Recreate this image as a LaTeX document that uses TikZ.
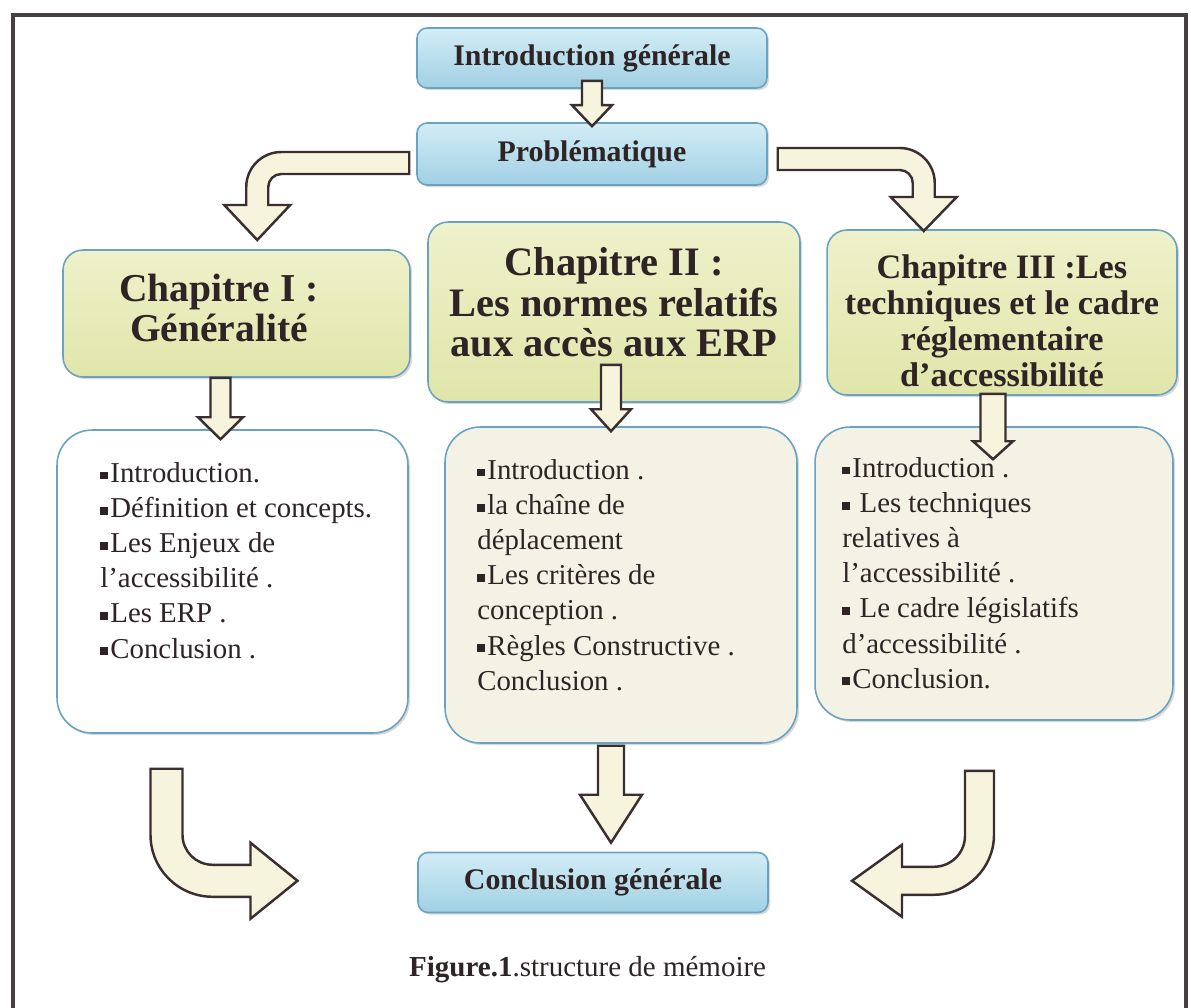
\documentclass[tikz,border=0pt]{standalone}
\usepackage{fontspec}
\setmainfont{Liberation Serif}
\usetikzlibrary{calc,shadows}

\definecolor{inkdark}{HTML}{2E2426}
\definecolor{framegray}{HTML}{474043}
\definecolor{bluetop}{HTML}{D3EDF6}
\definecolor{bluebot}{HTML}{A0D0E3}
\definecolor{blueline}{HTML}{6AA2C4}
\definecolor{chaptop}{HTML}{EEF1CA}
\definecolor{chapfill}{HTML}{E0E6AA}
\definecolor{creamfill}{HTML}{F3F2E4}
\definecolor{arrowfill}{HTML}{F6F4DC}
\definecolor{arrowline}{HTML}{3A2E30}

\newcommand{\sqb}{\raisebox{0.22ex}{\rule{0.27em}{0.27em}}\kern0.08em}
\newcommand{\downblock}[5]{%
	\draw[blockarrow] let \p1=(#1), \p2=(#2) in
		(\x1-#3,\y1) -- (\x1-#3,\y2+#5) -- (\x1-#4,\y2+#5) -- (\x1,\y2) -- (\x1+#4,\y2+#5) -- (\x1+#3,\y2+#5) -- (\x1+#3,\y1) -- cycle;}

\begin{document}
\begin{tikzpicture}
		[	x=0.02cm,y=-0.02cm,
		titlebox/.style={rectangle,rounded corners=0.2cm,draw=blueline,line width=0.9pt,top color=bluetop,bottom color=bluebot,minimum width=7cm,minimum height=1.2cm,text=inkdark,font=\fontsize{17}{19}\selectfont\bfseries,drop shadow={shadow xshift=1.2pt,shadow yshift=-1.2pt,opacity=0.3}},
		chapbox/.style={rectangle,rounded corners=0.4cm,draw=blueline,line width=0.9pt,top color=chaptop,bottom color=chapfill,align=center,text=inkdark,drop shadow={shadow xshift=1.2pt,shadow yshift=-1.2pt,opacity=0.3}},
		listbox/.style={rectangle,rounded corners=0.7cm,draw=blueline,line width=0.9pt,fill=creamfill,drop shadow={shadow xshift=1.2pt,shadow yshift=-1.2pt,opacity=0.3}},
		listtxt/.style={anchor=north west,inner sep=0pt,align=left,text=inkdark,font=\fontsize{16.4}{20}\selectfont},
		blockarrow/.style={draw=arrowline,fill=arrowfill,line width=1.4pt,line join=miter},
		outerframe/.style={draw=framegray,line width=0.08cm}
		]
		\useasboundingbox (0,0) rectangle (1191,1008);
		\draw[outerframe] (13,1008) -- (13,15) -- (1186,15) -- (1186,1008);

		\node[titlebox] (intro) at (592,58) {Introduction générale};
		\node[titlebox,minimum height=1.24cm] (prob) at (592,154) {Problématique};

		\node[chapbox,font=\fontsize{22.5}{23}\selectfont\bfseries,minimum width=6.94cm,minimum height=2.54cm] (chap1) at (236.5,313.5) {\begin{tabular}{@{}c@{}}Chapitre I :\\Généralité\end{tabular}\hspace{0.7cm}};
		\node[chapbox,font=\fontsize{23}{23}\selectfont\bfseries,minimum width=7.44cm,minimum height=3.6cm] (chap2) at (614,312) {Chapitre II :\\Les normes relatifs\\aux accès aux ERP\rule[-0.4cm]{0pt}{0pt}};
		\node[chapbox,font=\fontsize{19.5}{20.5}\selectfont\bfseries,minimum width=7cm,minimum height=3.3cm] (chap3) at (1002,312.5) {\rule{0pt}{0.82cm}Chapitre III :Les\\techniques et le cadre\\réglementaire\\d’accessibilité};

		\node[listbox,fill=white,minimum width=7.02cm,minimum height=6.06cm] (c1) at (232.5,581.5) {};
		\node[listbox,minimum width=7.04cm,minimum height=6.32cm] (c2) at (621,585) {};
		\node[listbox,minimum width=7.16cm,minimum height=5.86cm] (c3) at (994,573.5) {};

\node[listtxt] (t1) at (100,462) {\sqb Introduction.\\\sqb Définition et concepts.\\\sqb Les Enjeux de\\l’accessibilité .\\\sqb Les ERP .\\\sqb Conclusion .};
\node[listtxt] (t2) at (477,459) {\sqb Introduction .\\\sqb la chaîne de\\déplacement\\\sqb Les critères de\\conception .\\\sqb Règles Constructive .\\Conclusion .};
\node[listtxt] (t3) at (842,457) {\sqb Introduction .\\\sqb\ Les techniques\\relatives à\\l’accessibilité .\\\sqb\ Le cadre législatifs\\d’accessibilité .\\\sqb Conclusion.};

		\node[titlebox] (concl) at (593,882.5) {Conclusion générale};
		\node[anchor=base west,text=inkdark,font=\fontsize{16.5}{19}\selectfont] (caption) at (403,976) {\textbf{Figure.1}.structure de mémoire};

		\downblock{$(intro.south)+(0,-8)$}{$(prob.north)+(0,4)$}{0.2cm}{0.4cm}{0.42cm}
		\downblock{$(chap1.south)+(-16,0)$}{$(c1.north)+(-12,10)$}{0.2cm}{0.45cm}{0.44cm}
		\downblock{$(chap2.south)+(-3,-38)$}{$(c2.north)+(-10,5)$}{0.2cm}{0.4cm}{0.44cm}
		\downblock{$(chap3.south)+(-9,-2)$}{$(c3.north)+(-1,33)$}{0.25cm}{0.4cm}{0.36cm}
		\downblock{$(c2.south)+(-10,2)$}{$(concl.north)+(18,-9)$}{0.26cm}{0.62cm}{0.96cm}

		\draw[blockarrow] ([shift={(-7,-2)}]prob.west) -- ++(-128,0) arc[start angle=270,end angle=180,radius=35] -- ++(0,18) -- ++(-22,0) -- ++(33,35) -- ++(33,-35) -- ++(-22,0) -- ++(0,-18) arc[start angle=180,end angle=270,radius=13] -- ++(128,0) -- cycle;
		\draw[blockarrow] ([shift={(10,-6)}]prob.east) -- ++(122,0) arc[start angle=270,end angle=360,radius=35] -- ++(0,14) -- ++(22,0) -- ++(-33,34) -- ++(-33,-34) -- ++(22,0) -- ++(0,-14) arc[start angle=360,end angle=270,radius=13] -- ++(-122,0) -- cycle;

		\draw[blockarrow] ([shift={(-50,35)}]c1.south) -- ++(-32,0) -- ++(0,66) arc[start angle=180,end angle=90,radius=62] -- ++(38,0) -- ++(0,22) -- ++(47,-38) -- ++(-47,-38) -- ++(0,22) -- ++(-38,0) arc[start angle=90,end angle=180,radius=30] -- cycle;
		\draw[blockarrow] ([shift={(-29,50)}]c3.south) -- ++(29,0) -- ++(0,64) arc[start angle=0,end angle=90,radius=60] -- ++(-32,0) -- ++(0,22) -- ++(-50,-36) -- ++(50,-36) -- ++(0,22) -- ++(32,0) arc[start angle=90,end angle=0,radius=31] -- cycle;
	\end{tikzpicture}
\end{document}
